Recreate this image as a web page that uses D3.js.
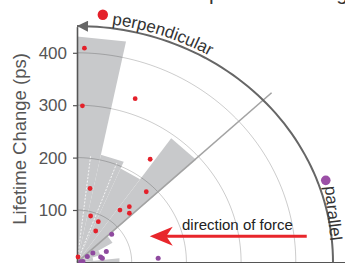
<!DOCTYPE html>
<html lang="en">
<head>
<meta charset="utf-8">
<script src="https://d3js.org/d3.v7.min.js"></script>
<style>
    body { margin: 0; background: #fff; }
    svg { display: block; font-family: "Liberation Sans", Arial, sans-serif; }
</style>
</head>
<body>
<svg width="345" height="263"></svg>
<script>
// rose histogram bins (degrees from the force axis) and bar lengths (ps)
const binEdges = [90, 78, 66, 54, 42, 30, 18, 6, -6];
const binLengths = [431, 210, 196, 293, 75, 45, 30, 78];

// individual measurements: angle (deg) and lifetime change (ps)
const redAngles  = [88.1, 88.1, 71.2, 55.8, 80.4, 46.8, 48.0, 51.8, 44.4, 74.3, 63.4, 60.3, 80.0];
const redChanges = [409, 299, 330, 238, 143, 185, 143, 127, 134, 92, 87, 69, 10.5];
const purpleAngles  = [40.2, 21.2, 31.4, 13.4, 9.6, 31.0, 8.8, 11.0, 3.0];
const purpleChanges = [83, 57.5, 34, 44.5, 47, 22, 11, 7, 148.6];

const gridRadii = [100, 200, 300, 400];
const yTicks = [100, 200, 300, 400];
const splitAngles = [83, 69];     // thin white dashed guides inside the bars
const diagonal = {angle: 42.3, length: 481};
const outerRadii = [468, 451];    // outer annotation arc

const svg = d3.select('svg');

// the plot is slightly stretched horizontally
const x = d3.scaleLinear().domain([0, 490]).range([77, 77 + 490 * 0.547]);
const y = d3.scaleLinear().domain([0, 450]).range([262.4, 262.4 - 450 * 0.524]);

const rad = d => d * Math.PI / 180;
const pol = (r, a) => [x(r * Math.cos(rad(a))), y(r * Math.sin(rad(a)))];
const ell = (rx, ry, a) => [x(rx * Math.cos(rad(a))), y(ry * Math.sin(rad(a)))];
const arcPts = (rx, ry, a0, a1) => d3.range(0, 61).map(i => ell(rx, ry, a0 + (a1 - a0) * i / 60));
const line = d3.line();

// cut-off title at the very top
svg.append('text')
    .attr('x', 125).attr('y', -0.5)
    .style('font-size', '21px').style('fill', '#333')
    .text('Force-dependent change');

// rose bars
svg.append('g').selectAll('path')
    .data(binLengths)
    .join('path')
    .attr('d', (r, i) => line([pol(0, 0), pol(r, binEdges[i]), pol(r, binEdges[i + 1])]) + 'Z')
    .style('fill', '#c8c9cb');

// white dashed guides
svg.append('g').selectAll('path')
    .data(splitAngles)
    .join('path')
    .attr('d', a => line([pol(0, 0), pol(205, a)]))
    .style('stroke', '#fff').style('stroke-width', 0.8)
    .style('stroke-dasharray', '2,1.5').style('fill', 'none');

// grid arcs
svg.append('g').selectAll('path')
    .data(gridRadii)
    .join('path')
    .attr('d', r => line(arcPts(r, r, 0, 90)))
    .style('fill', 'none').style('stroke', 'rgba(0,0,0,0.2)').style('stroke-width', 1);

// diagonal reference line
svg.append('path')
    .attr('d', line([pol(0, 0), pol(diagonal.length, diagonal.angle)]))
    .style('stroke', '#a3a3a3').style('stroke-width', 1.6);

// axes
const yAxis = svg.append('g')
    .attr('transform', `translate(${x(0)},0)`)
    .call(d3.axisLeft(y).tickValues(yTicks).tickSize(4).tickPadding(6).tickSizeOuter(0));
const xAxis = svg.append('g')
    .attr('transform', `translate(0,${y(0)})`)
    .call(d3.axisBottom(x).tickValues([]).tickSizeOuter(0));
svg.selectAll('.domain').style('stroke', '#555').style('stroke-width', 1.6);
yAxis.selectAll('.tick line').style('stroke', '#555').style('stroke-width', 1.2);
yAxis.selectAll('.tick text')
    .style('font-family', '"Liberation Sans", Arial, sans-serif')
    .style('font-size', '17px').style('fill', '#555');

svg.append('text')
    .attr('transform', 'translate(25.5,139) rotate(-90)')
    .attr('text-anchor', 'middle')
    .style('font-size', '18.5px').style('fill', '#555')
    .text('Lifetime Change (ps)');

// outer arc with arrow towards perpendicular
svg.append('defs').append('marker')
    .attr('id', 'head')
    .attr('viewBox', '0 -5 10 10')
    .attr('markerUnits', 'userSpaceOnUse')
    .attr('markerWidth', 19).attr('markerHeight', 11)
    .attr('refX', 10).attr('refY', 0)
    .attr('orient', 'auto')
    .append('path').attr('d', 'M0,-5L10,0L0,5Z').style('fill', '#666');

svg.append('path')
    .attr('d', line(arcPts(outerRadii[0], outerRadii[1], 0, 90)))
    .attr('marker-end', 'url(#head)')
    .style('fill', 'none').style('stroke', '#666').style('stroke-width', 2);

// labels along the arc
svg.append('path').attr('id', 'perpPath')
    .attr('d', line(arcPts(outerRadii[0] + 7, outerRadii[1] + 7, 82.3, 20)))
    .style('fill', 'none');
svg.append('path').attr('id', 'paraPath')
    .attr('d', line([[x(453), y(145)], [x(466), y(15)]]))
    .style('fill', 'none');
svg.append('text').style('font-size', '17px').style('fill', '#333')
    .append('textPath').attr('href', '#perpPath').text('perpendicular');
svg.append('text').style('font-size', '17px').style('fill', '#333')
    .append('textPath').attr('href', '#paraPath').text('parallel');

// legend markers
svg.append('circle').attr('cx', pol(475, 84.3)[0]).attr('cy', pol(475, 84.3)[1])
    .attr('r', 5.2).style('fill', '#e4202a');
svg.append('circle').attr('cx', pol(481, 19)[0]).attr('cy', pol(481, 19)[1])
    .attr('r', 4.8).style('fill', '#9b4fa6');

// data points
svg.append('g').selectAll('circle')
    .data(purpleAngles)
    .join('circle')
    .attr('cx', (a, i) => pol(purpleChanges[i], a)[0])
    .attr('cy', (a, i) => pol(purpleChanges[i], a)[1])
    .attr('r', 2.5).style('fill', '#8f4a9f');
svg.append('g').selectAll('circle')
    .data(redAngles)
    .join('circle')
    .attr('cx', (a, i) => pol(redChanges[i], a)[0])
    .attr('cy', (a, i) => pol(redChanges[i], a)[1])
    .attr('r', 2.4).style('fill', '#e4202a');

// direction of force annotation
const arrowTip = [x(133), y(50)];
svg.append('path')
    .attr('d', line([[x(420), y(50)], [x(150), y(50)]]))
    .style('stroke', '#e8262b').style('stroke-width', 3);
svg.append('path')
    .attr('transform', `translate(${arrowTip[0]},${arrowTip[1]})`)
    .attr('d', 'M0,0L23,-9.5L16.5,0L23,9.5Z')
    .style('fill', '#e8262b');
svg.append('text')
    .attr('x', x(192)).attr('y', y(62))
    .style('font-size', '15px').style('fill', '#222')
    .text('direction of force');
</script>
</body>
</html>
